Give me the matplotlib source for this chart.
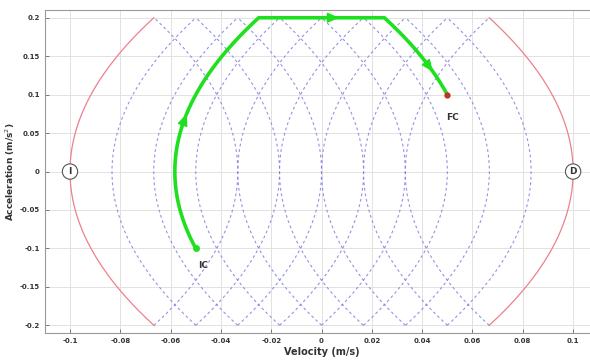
import numpy as np
import matplotlib
matplotlib.use("Agg")
import matplotlib.pyplot as plt
from matplotlib.patches import FancyArrowPatch

# ---- data ----
jerk_max = 0.6          # m/s^3 (sets parabola width)
accel_max = 0.2         # m/s^2
boundary_left_vertex = -0.1
boundary_right_vertex = 0.1
right_open_vertices = [-0.0833, -0.0667, -0.05, -0.0333, -0.0167, 0.0, 0.0167, 0.0333]
left_open_vertices = [-0.0333, -0.0167, 0.0, 0.0167, 0.0333, 0.05, 0.0667, 0.0833]
ic_point = (-0.05, -0.1)
fc_point = (0.05, 0.1)
arrow_accels_up = [0.075]
arrow_vel_top = [0.007]
arrow_accels_down = [0.13]
x_ticks = [-0.1, -0.08, -0.06, -0.04, -0.02, 0, 0.02, 0.04, 0.06, 0.08, 0.1]
x_tick_labels = ["-0.1", "-0.08", "-0.06", "-0.04", "-0.02", "0", "0.02", "0.04", "0.06", "0.08", "0.1"]
y_ticks = [-0.2, -0.15, -0.1, -0.05, 0, 0.05, 0.1, 0.15, 0.2]
y_tick_labels = ["-0.2", "-0.15", "-0.1", "-0.05", "0", "0.05", "0.1", "0.15", "0.2"]

fig = plt.figure(figsize=(5.9, 3.6), dpi=100)
ax = fig.add_axes([0.076, 0.075, 0.938, 0.897])

a = np.linspace(-accel_max, accel_max, 300)
k = 1.0 / (2 * jerk_max)

blue = (0.5, 0.5, 0.88)
for p in right_open_vertices:
    ax.plot(p + k * a**2, a, color=blue, lw=0.8, ls=(0, (2.5, 2.5)), alpha=0.85)
for q in left_open_vertices:
    ax.plot(q - k * a**2, a, color=blue, lw=0.8, ls=(0, (2.5, 2.5)), alpha=0.85)

red = (0.93, 0.5, 0.55)
ax.plot(boundary_left_vertex + k * a**2, a, color=red, lw=0.9)
ax.plot(boundary_right_vertex - k * a**2, a, color=red, lw=0.9)

# green trajectory
green = (0.12, 0.88, 0.12)
p_g = ic_point[0] - k * ic_point[1]**2
a1 = np.linspace(ic_point[1], accel_max, 200)
v1 = p_g + k * a1**2
q_g = fc_point[0] + k * fc_point[1]**2
v_top_start = v1[-1]
v_top_end = q_g - k * accel_max**2
a3 = np.linspace(accel_max, fc_point[1], 200)
v3 = q_g - k * a3**2
vs = np.concatenate([v1, [v_top_start, v_top_end], v3])
accs = np.concatenate([a1, [accel_max, accel_max], a3])
ax.plot(vs, accs, color=green, lw=2.6, solid_capstyle='round', zorder=5)

def head(x0, y0, x1, y1):
    ax.add_patch(FancyArrowPatch((x0, y0), (x1, y1), arrowstyle='-|>,head_length=0.8,head_width=0.35',
                                 mutation_scale=9, color=green, lw=1.0,
                                 shrinkA=0, shrinkB=0, zorder=6))

for aa in arrow_accels_up:
    head(p_g + k * (aa - 0.015)**2, aa - 0.015, p_g + k * aa**2, aa)
for vv in arrow_vel_top:
    head(vv - 0.005, accel_max, vv, accel_max)
for aa in arrow_accels_down:
    head(q_g - k * (aa + 0.015)**2, aa + 0.015, q_g - k * aa**2, aa)

ax.plot([ic_point[0]], [ic_point[1]], 'o', color=green, ms=4, zorder=7)
ax.plot([fc_point[0]], [fc_point[1]], 'o', color=(0.75, 0.2, 0.15), ms=3.5, zorder=7)
ax.text(ic_point[0] + 0.003, ic_point[1] - 0.022, "IC", fontsize=6.5, fontweight='bold',
        color='#333333', ha='center', va='center')
ax.text(fc_point[0] + 0.002, fc_point[1] - 0.03, "FC", fontsize=6.5, fontweight='bold',
        color='#333333', ha='center', va='center')

circ = dict(boxstyle='circle,pad=0.35', fc='white', ec='#555555', lw=0.8)
ax.text(boundary_left_vertex, 0, "I", fontsize=6.5, fontweight='bold', color='#333333',
        ha='center', va='center', bbox=circ, zorder=8)
ax.text(boundary_right_vertex, 0, "D", fontsize=6.5, fontweight='bold', color='#333333',
        ha='center', va='center', bbox=circ, zorder=8)

ax.set_xlim(-0.11, 0.11)
ax.set_ylim(-0.21, 0.21)
ax.set_xticks(x_ticks)
ax.set_xticklabels(x_tick_labels)
ax.set_yticks(y_ticks)
ax.set_yticklabels(y_tick_labels)
ax.grid(True, color='#e2e2e2', lw=0.7)
ax.set_axisbelow(True)
ax.tick_params(direction='in', length=3, width=0.6, colors='#666666', labelsize=5,
               labelcolor='#333333')
for lab in ax.get_xticklabels() + ax.get_yticklabels():
    lab.set_fontweight('bold')
for s in ax.spines.values():
    s.set_color('#999999')
    s.set_linewidth(0.8)
ax.set_xlabel("Velocity (m/s)", fontsize=7, fontweight='bold', color='#333333', labelpad=2)
ax.set_ylabel("Acceleration (m/s$^2$)", fontsize=6.5, fontweight='bold', color='#333333', labelpad=2)

fig.savefig("out.png", dpi=100)
